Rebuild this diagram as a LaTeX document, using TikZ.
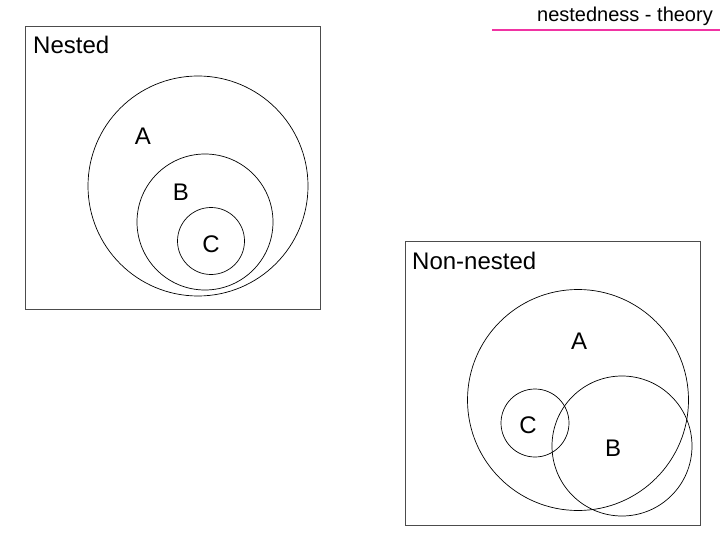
\documentclass[tikz,border=0pt]{standalone}
\usepackage{fontspec}
\setmainfont{Liberation Sans}
\begin{document}
\begin{tikzpicture}[x=1pt,y=-1pt,
  lbl/.style={font=\fontsize{24}{26}\selectfont, inner sep=0pt},
  circ/.style={draw=black, line width=0.7pt},
  box/.style={draw=black!70, line width=0.7pt}]
\useasboundingbox (0,0) rectangle (720,540);
\node[anchor=east, font=\fontsize{20}{22}\selectfont, inner sep=0pt] (title) at (713,16) {nestedness - theory};
\draw[magenta!80!white, line width=2.5pt] (492,30) -- (720,30);
% nested
\node[box, minimum width=295, minimum height=283, anchor=north west, inner sep=0pt] (b1) at (25,26) {};
\node[lbl, anchor=west] (t1) at (33,45) {Nested};
\node[circ, circle, minimum size=220, inner sep=0pt] (A1) at (198,186) {};
\node[circ, circle, minimum size=136, inner sep=0pt] (B1) at (205,222) {};
\node[circ, circle, minimum size=67, inner sep=0pt] (C1) at (211,241) {};
\node[lbl] (la1) at (143,136) {A};
\node[lbl] (lb1) at (181,192) {B};
\node[lbl] (lc1) at (211,244) {C};
% non-nested
\node[box, minimum width=295, minimum height=284, anchor=north west, inner sep=0pt] (b2) at (405,241) {};
\node[lbl, anchor=west] (t2) at (412,261) {Non-nested};
\node[circ, circle, minimum size=221, inner sep=0pt] (A2) at (578,400) {};
\node[circ, circle, minimum size=68, inner sep=0pt] (C2) at (535,423) {};
\node[circ, circle, minimum size=140, inner sep=0pt] (B2) at (622,446) {};
\node[lbl] (la2) at (579,341) {A};
\node[lbl] (lc2) at (528,425) {C};
\node[lbl] (lb2) at (613,448) {B};
\end{tikzpicture}
\end{document}
